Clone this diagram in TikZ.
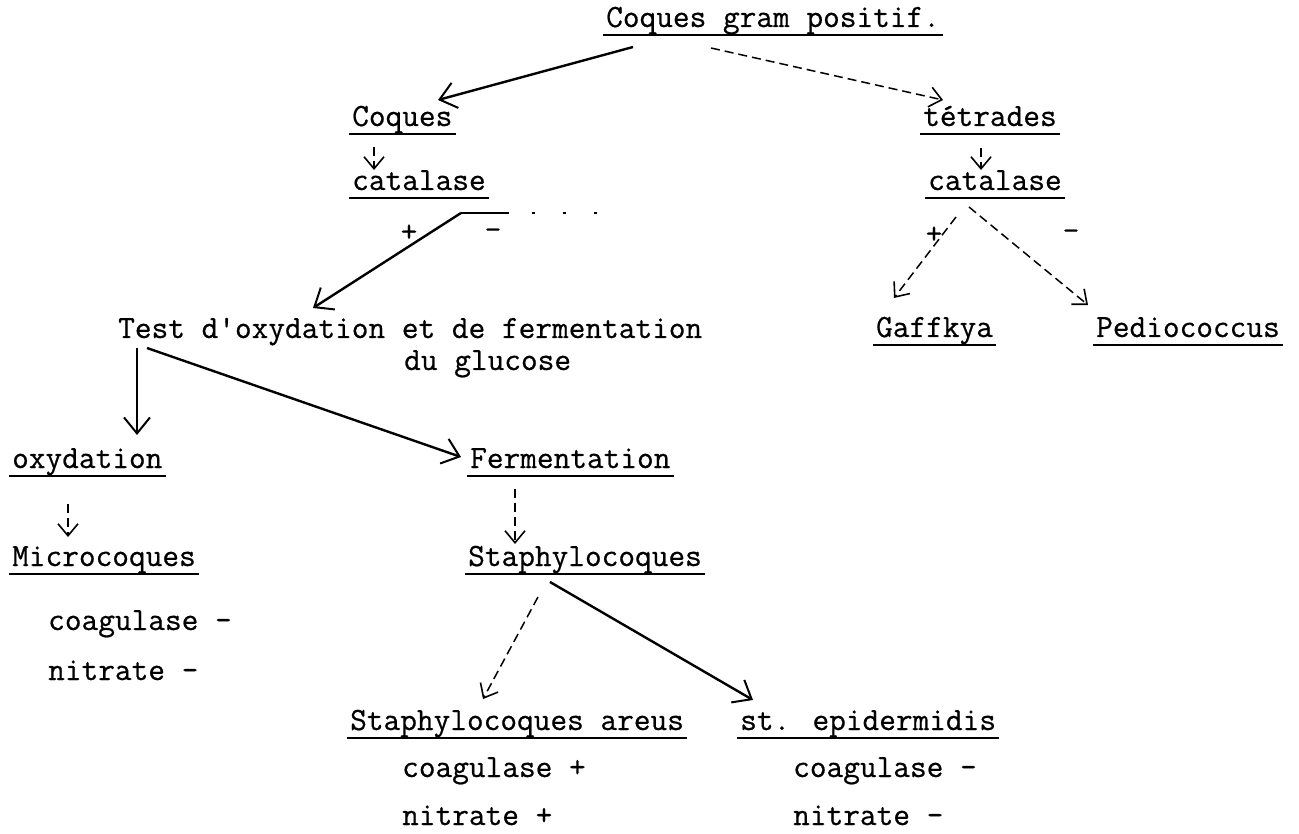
\documentclass[tikz,border=0pt]{standalone}
\usepackage{fontspec}
\newfontfamily\typew{Latin Modern Mono}[FakeBold=0.6]
\usetikzlibrary{arrows.meta}

\begin{document}
\begin{tikzpicture}[x=1pt,y=-1pt,
  every node/.style={font=\typew\bfseries\fontsize{32.4}{38}\selectfont, inner sep=0pt},
  txt/.style={anchor=base west},
  uline/.style={line width=2.4pt},
  arr/.style={line width=2.4pt,-{Straight Barb[length=16pt,width=26pt,line width=2pt]}},
  darr/.style={line width=1.5pt,dash pattern=on 9pt off 5pt,-{Straight Barb[length=12pt,width=20pt,line width=1.6pt]}}]

\useasboundingbox[fill=white] (0,0) rectangle (1299,834);

 \node[txt] (gram) at (606,27) {Coques gram positif.};

 \node[txt] (coques) at (352,126) {Coques};
 \node[txt] (cat1) at (352,190) {catalase};
 \node[txt] (tetr) at (923,126) {tétrades};
 \node[txt] (cat2) at (928,190) {catalase};

 \node (pl1) at (409,233) {+};
 \node (mi1) at (493,234) {-};
 \node (pl2) at (934,235) {+};
 \node (mi2) at (1071,235) {-};

 \node[txt] (test) at (118,338) {Test d'oxydation et de fermentation};
 \node[txt] (glu) at (404,370) {du glucose};
 \node[txt] (gaff) at (876,337) {Gaffkya};
 \node[txt] (pedio) at (1096,337) {Pediococcus};

 \node[txt] (oxy) at (12,468) {oxydation};
 \node[txt] (ferm) at (470,468) {Fermentation};
 \node[txt] (micro) at (12,566) {Microcoques};
 \node[txt] (staph) at (468,566) {Staphylocoques};

 \node[txt] (mc1) at (48,630) {coagulase -};
 \node[txt] (mc2) at (48,680) {nitrate -};

 \node[txt] (aureus) at (350,730) {Staphylocoques areus};
 \node[txt] (epid) at (740,730) {st. epidermidis};
 \node[txt] (au1) at (402,777) {coagulase +};
 \node[txt] (au2) at (402,825) {nitrate +};
 \node[txt] (ep1) at (793,777) {coagulase -};
 \node[txt] (ep2) at (793,825) {nitrate -};

\foreach \n in {gram,coques,cat1,tetr,cat2,gaff,pedio,oxy,ferm,micro,staph,aureus,epid}
  \draw[uline] ([shift={(-3,8)}]\n.base west) -- ([shift={(3,8)}]\n.base east);

% branches
\draw[arr] ([shift={(27,20)}]gram.base west) -- ([shift={(86,-26)}]coques.base west);
\draw[darr] ([shift={(105,21)}]gram.base west) -- ([shift={(20,-26)}]tetr.base west);
\draw[darr] ([shift={(22,21)}]coques.base west) -- ([shift={(22,-20)}]cat1.base west);
\draw[darr] ([shift={(58,22)}]tetr.base west) -- ([shift={(53,-20)}]cat2.base west);

\draw[arr] ([shift={(109,23)}]cat1.base west) -- ([shift={(195,-30)}]test.base west);
\coordinate (catneg) at (620,213);
\draw[line width=1.8pt] ([shift={(109,23)}]cat1.base west) -- ([shift={(157,23)}]cat1.base west);
\draw[line width=1.5pt,dash pattern=on 3pt off 28pt] ([shift={(180,23)}]cat1.base west) -- (catneg);

\draw[darr] ([shift={(28,27)}]cat2.base west) -- ([shift={(18,-39)}]gaff.base west);
\draw[darr] ([shift={(41,17)}]cat2.base west) -- ([shift={(-8,-32)}]pedio.base west);

\draw[arr] ([shift={(19,10)}]test.base west) -- ([shift={(125,-33)}]oxy.base west);
\draw[arr] ([shift={(29,10)}]test.base west) -- ([shift={(-9,-11)}]ferm.base west);

\draw[darr] ([shift={(56,36)}]oxy.base west) -- ([shift={(56,-29)}]micro.base west);
\draw[darr] ([shift={(45,21)}]ferm.base west) -- ([shift={(47,-22)}]staph.base west);

\draw[darr] ([shift={(70,31)}]staph.base west) -- ([shift={(133,-31)}]aureus.base west);
\draw[arr] ([shift={(82,16)}]staph.base west) -- ([shift={(13,-30)}]epid.base west);

\end{tikzpicture}
\end{document}
